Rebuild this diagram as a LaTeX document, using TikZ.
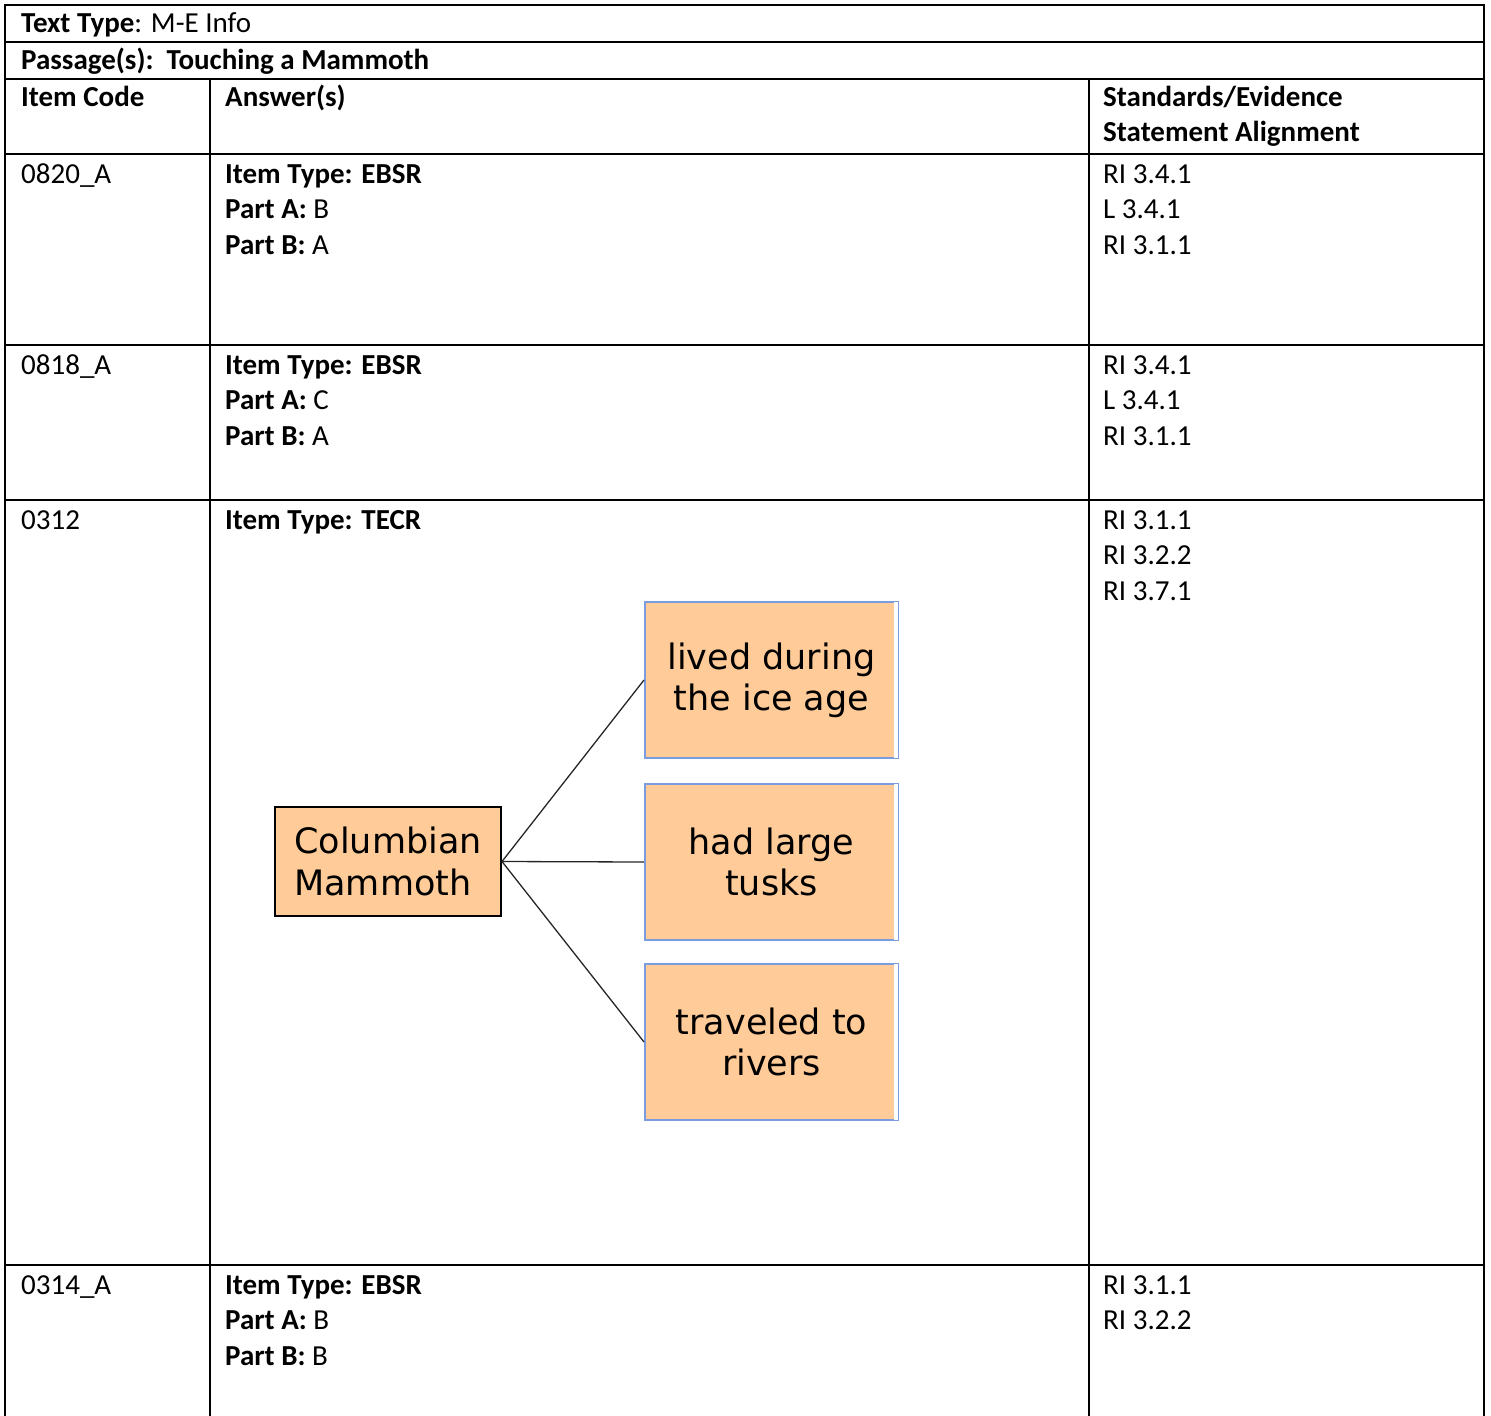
\documentclass[tikz,border=0pt]{standalone}
\usepackage{fontspec}
\setmainfont{Carlito}
\newfontfamily\diagfont{DejaVu Sans}
\definecolor{peach}{HTML}{FFCC99}
\definecolor{boxblue}{HTML}{7C9CE0}
\newcommand\cellfont{\fontsize{29}{35}\selectfont}
\begin{document}
\begin{tikzpicture}[x=1pt,y=-1pt,
  grid/.style={line width=2pt, black},
  cell/.style={anchor=base west, inner sep=0pt, font=\cellfont, yshift=-1pt},
  mbox/.style={draw=black, line width=2pt, fill=peach, inner sep=0pt, align=left,
    font=\diagfont\fontsize{35}{42}\selectfont, minimum width=226pt, minimum height=109pt},
  abox/.style={draw=boxblue, line width=2pt, fill=peach, inner sep=0pt, align=center,
    font=\diagfont\fontsize{35}{41}\selectfont, minimum width=253pt, minimum height=156pt},
  strip/.style={white, line width=4pt},
  conn/.style={line width=1.3pt, black!85}]
\useasboundingbox (0,0) rectangle (1491,1416);
% table lines
\draw[grid] (5,1416) -- (5,5) -- (1484,5) -- (1484,1416);
\draw[grid] (5,42) -- (1484,42);
\draw[grid] (5,79) -- (1484,79);
\draw[grid] (5,154) -- (1484,154);
\draw[grid] (5,345) -- (1484,345);
\draw[grid] (5,500) -- (1484,500);
\draw[grid] (5,1265) -- (1484,1265);
\draw[grid] (210,79) -- (210,1416);
\draw[grid] (1089,79) -- (1089,1416);
% header texts
\node[cell] (tt) at (21,31) {\textbf{Text Type}: M-E Info};
\node[cell] (ps) at (21,68) {\textbf{Passage(s):\ \ Touching a Mammoth}};
\node[cell] (h1) at (21,105) {\textbf{Item Code}};
\node[cell] (h2) at (225,105) {\textbf{Answer(s)}};
\node[cell] (h3a) at (1103,105) {\textbf{Standards/Evidence}};
\node[cell] (h3b) at (1103,140) {\textbf{Statement Alignment}};
% row 1
\node[cell] (r1c) at (21,182) {0820\_A};
\node[cell] (r1a) at (225,182) {\textbf{Item Type: EBSR}};
\node[cell] (r1b) at (225,217) {\textbf{Part A:} B};
\node[cell] (r1d) at (225,253) {\textbf{Part B:} A};
\node[cell] (r1s1) at (1103,182) {RI 3.4.1};
\node[cell] (r1s2) at (1103,217) {L 3.4.1};
\node[cell] (r1s3) at (1103,253) {RI 3.1.1};
% row 2
\node[cell] (r2c) at (21,373) {0818\_A};
\node[cell] (r2a) at (225,373) {\textbf{Item Type: EBSR}};
\node[cell] (r2b) at (225,408) {\textbf{Part A:} C};
\node[cell] (r2d) at (225,444) {\textbf{Part B:} A};
\node[cell] (r2s1) at (1103,373) {RI 3.4.1};
\node[cell] (r2s2) at (1103,408) {L 3.4.1};
\node[cell] (r2s3) at (1103,444) {RI 3.1.1};
% row 3
\node[cell] (r3c) at (21,528) {0312};
\node[cell] (r3a) at (225,528) {\textbf{Item Type: TECR}};
\node[cell] (r3s1) at (1103,528) {RI 3.1.1};
\node[cell] (r3s2) at (1103,563) {RI 3.2.2};
\node[cell] (r3s3) at (1103,599) {RI 3.7.1};
% row 4
\node[cell] (r4c) at (21,1293) {0314\_A};
\node[cell] (r4a) at (225,1293) {\textbf{Item Type: EBSR}};
\node[cell] (r4b) at (225,1328) {\textbf{Part A:} B};
\node[cell] (r4d) at (225,1364) {\textbf{Part B:} B};
\node[cell] (r4s1) at (1103,1293) {RI 3.1.1};
\node[cell] (r4s2) at (1103,1328) {RI 3.2.2};
% diagram
\node[mbox] (cm) at (388,861.5) {Columbian\\Mammoth};
\node[abox] (b1) at (771.5,680) {lived during\\the ice age};
\node[abox] (b2) at (771.5,862) {had large\\tusks};
\node[abox] (b3) at (771.5,1042) {traveled to\\rivers};
\foreach \b in {b1,b2,b3}{
  \draw[strip] ([xshift=-3pt,yshift=-1pt]\b.north east) -- ([xshift=-3pt,yshift=1pt]\b.south east);
}
\draw[conn] (cm.east) -- (b1.west);
\draw[conn] (cm.east) -- (b2.west);
\draw[conn] (cm.east) -- (b3.west);
\end{tikzpicture}
\end{document}
